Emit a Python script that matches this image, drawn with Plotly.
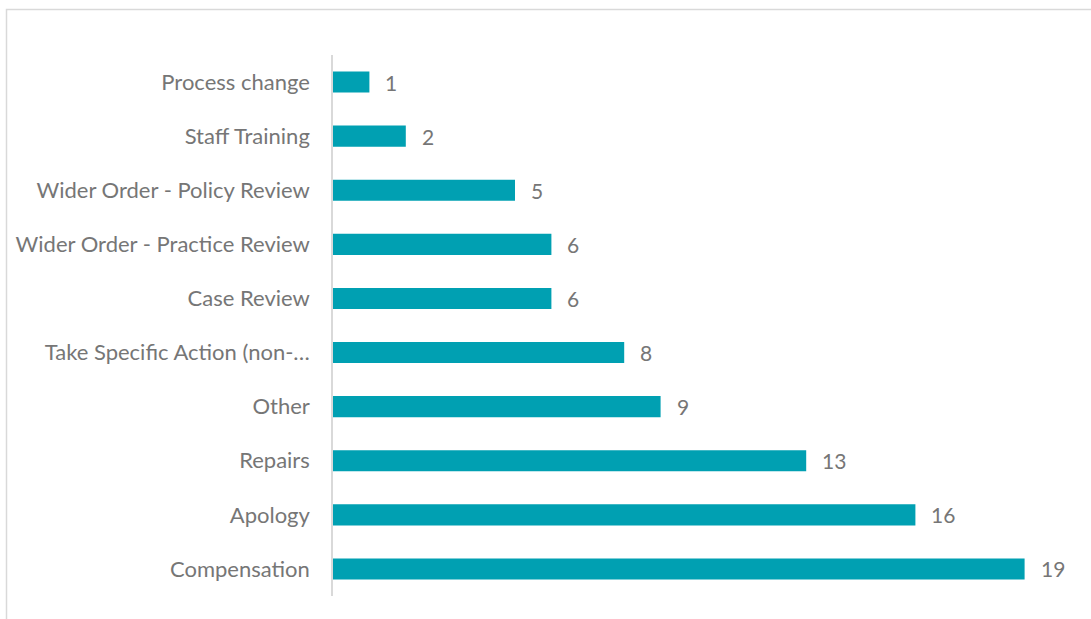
import plotly.graph_objects as go

categories = ["Compensation", "Apology", "Repairs", "Other", "Take Specific Action (non-…",
              "Case Review", "Wider Order - Practice Review", "Wider Order - Policy Review",
              "Staff Training", "Process change"]
values = [19, 16, 13, 9, 8, 6, 6, 5, 2, 1]

W, H = 1091, 619
L, R, T, B = 333, 30, 55, 23
pw, ph = W - L - R, H - T - B
FONT = "Lato, Open Sans, sans-serif"
FS = 22
TC = "#767676"

fig = go.Figure()
fig.add_trace(go.Bar(
    y=categories, x=values, orientation="h",
    marker=dict(color="#00A0B2", line=dict(width=0)),
    width=0.39, hoverinfo="x+y",
))

for c, v in zip(categories, values):
    fig.add_annotation(x=v, y=c, text=str(v), xanchor="left", xshift=14, showarrow=False,
                       font=dict(family=FONT, size=FS - 1, color=TC))

# chart border (Excel chart area)
fig.add_shape(type="rect", xref="paper", yref="paper",
              x0=(6.5 - L) / pw, x1=(W + 5 - L) / pw,
              y0=(H - B - (H + 5)) / ph, y1=(H - B - 9.5) / ph,
              line=dict(color="#d9d9d9", width=1.5), fillcolor="rgba(0,0,0,0)", layer="below")

fig.update_layout(
    width=W, height=H,
    margin=dict(l=L, r=R, t=T, b=B),
    paper_bgcolor="white", plot_bgcolor="white",
    showlegend=False,
    font=dict(family=FONT, size=FS, color=TC),
    xaxis=dict(range=[0, 20], visible=False, showgrid=False, zeroline=False),
    yaxis=dict(categoryorder="array", categoryarray=categories,
               range=[-0.5, len(categories) - 0.5],
               showline=True, linecolor="#d9d9d9", linewidth=1.5,
               ticks="", showgrid=False, zeroline=False,
               ticklabelstandoff=17,
               tickfont=dict(family=FONT, size=FS, color=TC)),
)

fig.write_html("out.html", config={"displayModeBar": False},
               post_script="document.body.style.margin='0';document.body.style.overflow='hidden';")
